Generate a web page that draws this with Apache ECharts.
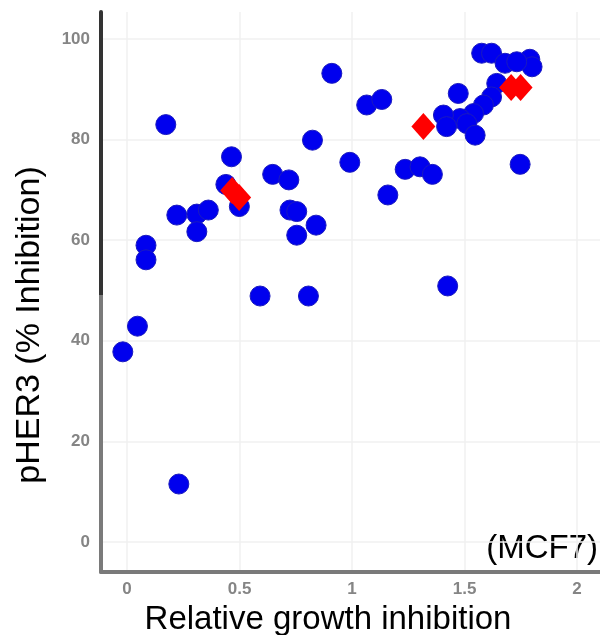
<!DOCTYPE html>
<html>
<head>
<meta charset="utf-8">
<script src="https://cdn.jsdelivr.net/npm/echarts@6/dist/echarts.min.js"></script>
<style>html,body{margin:0;padding:0;background:#fff}#c{width:600px;height:635px}</style>
</head>
<body>
<div id="c"></div>
<script>
// Blue compounds: [relative growth inhibition, pHER3 % inhibition]
const blueX = [0.172,0.91,1.065,1.132,0.824,0.99,0.464,0.647,0.719,0.439,0.499,0.221,0.31,0.361,0.31,0.724,0.754,0.754,0.84,0.084,0.084,0.591,0.806,0.046,-0.019,0.23,1.236,1.302,1.357,1.159,1.747,1.425,1.576,1.62,1.79,1.80,1.68,1.732,1.643,1.62,1.472,1.584,1.54,1.48,1.406,1.42,1.51,1.547];
const blueY = [83.0,93.2,86.9,88.0,79.9,75.5,76.6,73.1,72.0,71.1,66.7,65.0,65.2,66.0,61.7,66.0,65.7,61.0,63.0,59.0,56.1,48.9,48.9,42.9,37.8,11.5,74.1,74.6,73.1,69.0,75.1,50.9,97.2,97.2,96.0,94.5,95.2,95.5,91.2,88.5,89.2,86.9,85.2,84.2,84.9,82.6,83.2,80.9];
// Red reference compounds
const redX = [0.467,0.498,1.317,1.707,1.749];
const redY = [69.9,68.5,82.6,90.4,90.4];
// Axis ticks
const xTicks = [0,0.5,1,1.5,2];
const yTicks = [0,20,40,60,80,100];
const xName = 'Relative growth inhibition';
const yName = 'pHER3 (% Inhibition)';
const cellLine = '(MCF7)';

const blueData = blueX.map((x,i)=>[x,blueY[i]]);
const redData = redX.map((x,i)=>[x,redY[i]]);
const font = "'Liberation Sans', Arial, sans-serif";

const chart = echarts.init(document.getElementById('c'), null, {renderer:'canvas'});
chart.setOption({
  animation:false,
  backgroundColor:'#fff',
  grid:{left:101,right:0,top:12,bottom:63,containLabel:false,outerBoundsMode:'none'},
  xAxis:{
    type:'value', min:-0.116, max:2.102,
    axisLine:{show:true,onZero:false,lineStyle:{color:'#7a7a7a',width:4}},
    axisTick:{show:false,customValues:xTicks},
    axisLabel:{show:true,customValues:xTicks,color:'#858585',fontSize:17,fontWeight:'bold',fontFamily:font,margin:9},
    splitLine:{show:true,lineStyle:{color:'#f0f0f0',width:1.5}}
  },
  yAxis:{
    type:'value', min:-6, max:105.4,
    axisLine:{show:true,onZero:false,lineStyle:{width:4,color:{type:'linear',x:0,y:12,x2:0,y2:572,global:true,
      colorStops:[{offset:0,color:'#333'},{offset:0.505,color:'#333'},{offset:0.505,color:'#7a7a7a'},{offset:1,color:'#7a7a7a'}]}}},
    axisTick:{show:false,customValues:yTicks},
    axisLabel:{show:true,customValues:yTicks,color:'#858585',fontSize:17,fontWeight:'bold',fontFamily:font,margin:11},
    splitLine:{show:true,lineStyle:{color:'#f0f0f0',width:1.5}}
  },
  series:[
    {type:'scatter',data:blueData,symbol:'circle',symbolSize:20,itemStyle:{color:'#0000ee',borderColor:'#1a1ac0',borderWidth:1,opacity:1},z:2},
    {type:'scatter',data:redData,symbol:'diamond',symbolSize:[24,27],itemStyle:{color:'#ff0000',opacity:1},z:3}
  ],
  graphic:[
    {type:'text',x:328,y:620,style:{text:xName,font:'33px '+font,fill:'#000',textAlign:'center',textVerticalAlign:'middle'}},
    {type:'text',x:30,y:325,rotation:Math.PI/2,style:{text:yName,font:'34px '+font,fill:'#000',textAlign:'center',textVerticalAlign:'middle'}},
    {type:'text',x:598,y:549,style:{text:cellLine,font:'33px '+font,fill:'#000',textAlign:'right',textVerticalAlign:'middle'}}
  ]
});
</script>
</body>
</html>
